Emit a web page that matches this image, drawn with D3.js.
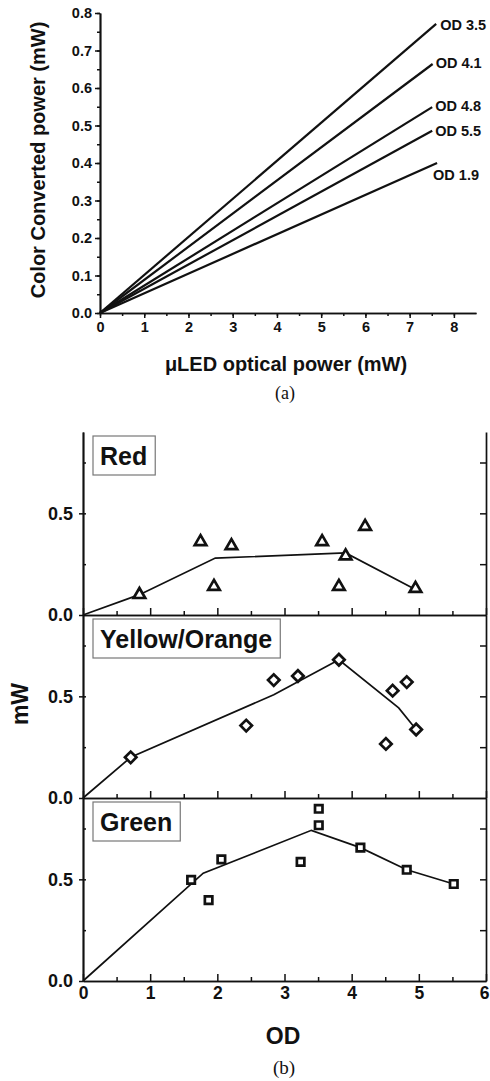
<!DOCTYPE html>
<html>
<head>
<meta charset="utf-8">
<script src="https://cdn.jsdelivr.net/npm/d3@7"></script>
<style>
  body { margin: 0; background: #fff; }
  svg { display: block; }
  .axis path, .axis line { stroke: #111; }
  text { fill: #111; }
</style>
</head>
<body>
<svg id="chart" width="490" height="1081"></svg>
<script>
// (a) color converted power vs uLED optical power
const odNames = ['OD 3.5', 'OD 4.1', 'OD 4.8', 'OD 5.5', 'OD 1.9'];
const ledEnd = [7.6, 7.52, 7.51, 7.51, 7.62];
const convertedEnd = [0.771, 0.664, 0.549, 0.486, 0.4];

// (b) converted power vs OD, per color
const redOD = [0.84, 1.75, 1.95, 2.21, 3.56, 3.81, 3.91, 4.2, 4.95];
const redPower = [0.1, 0.36, 0.14, 0.34, 0.36, 0.14, 0.29, 0.435, 0.13];
const redFitOD = [0, 0.84, 1.97, 3.91, 4.95];
const redFitPower = [0, 0.1, 0.28, 0.305, 0.125];

const yellowOD = [0.71, 2.43, 2.84, 3.2, 3.81, 4.51, 4.61, 4.82, 4.96];
const yellowPower = [0.2, 0.356, 0.58, 0.6, 0.68, 0.266, 0.528, 0.57, 0.337];
const yellowFitOD = [0, 0.71, 2.84, 3.81, 4.7, 4.96];
const yellowFitPower = [0, 0.2, 0.508, 0.68, 0.443, 0.337];

const greenOD = [1.61, 1.87, 2.06, 3.24, 3.51, 3.51, 4.13, 4.82, 5.52];
const greenPower = [0.497, 0.398, 0.598, 0.586, 0.847, 0.766, 0.656, 0.547, 0.477];
const greenFitOD = [0, 1.79, 3.4, 4.13, 4.82, 5.52];
const greenFitPower = [0, 0.53, 0.741, 0.656, 0.547, 0.477];

const font = 'Arial, "Liberation Sans", sans-serif';
const serif = '"Times New Roman", "Liberation Serif", serif';

const svg = d3.select('#chart');

function styleAxis(g, size) {
  g.attr('class', 'axis')
    .attr('font-family', font)
    .attr('font-size', size)
    .attr('font-weight', 'bold');
  g.selectAll('path').attr('stroke-width', 1.7);
  g.selectAll('line').attr('stroke-width', 1.5);
  g.selectAll('text').attr('fill', '#111');
}

//---------------- panel (a) ----------------
const xa = d3.scaleLinear().domain([0, 8.5]).range([100, 476]);
const ya = d3.scaleLinear().domain([0, 0.8]).range([313, 13]);

const ga = svg.append('g');

// minor ticks
ga.append('g')
  .attr('transform', 'translate(0,' + ya(0) + ')')
  .call(d3.axisBottom(xa).tickValues(d3.range(17).map(i => i * 0.5)).tickSize(3).tickSizeOuter(0).tickFormat(''))
  .call(g => styleAxis(g, 14));
ga.append('g')
  .attr('transform', 'translate(' + xa(0) + ',0)')
  .call(d3.axisLeft(ya).tickValues(d3.range(17).map(i => i * 0.05)).tickSize(3).tickSizeOuter(0).tickFormat(''))
  .call(g => styleAxis(g, 14));

// major ticks
ga.append('g')
  .attr('transform', 'translate(0,' + ya(0) + ')')
  .call(d3.axisBottom(xa).tickValues(d3.range(9)).tickSize(5).tickSizeOuter(0).tickPadding(4).tickFormat(d3.format('d')))
  .call(g => styleAxis(g, 14.5));
ga.append('g')
  .attr('transform', 'translate(' + xa(0) + ',0)')
  .call(d3.axisLeft(ya).tickValues(d3.range(9).map(i => i * 0.1)).tickSize(5).tickSizeOuter(0).tickPadding(3).tickFormat(d3.format('.1f')))
  .call(g => styleAxis(g, 14.5));

const lineA = d3.line().x(d => xa(d[0])).y(d => ya(d[1]));
ga.selectAll('path.od')
  .data(odNames)
  .enter()
  .append('path')
  .attr('class', 'od')
  .attr('d', (d, i) => lineA([[0, 0], [ledEnd[i], convertedEnd[i]]]))
  .attr('fill', 'none')
  .attr('stroke', '#111')
  .attr('stroke-width', 2.2);

// label offsets from line ends
const labelDx = [4, 3, 3, 3, -4];
const labelDy = [6, 4, 4, 5, 17];
ga.selectAll('text.od')
  .data(odNames)
  .enter()
  .append('text')
  .attr('class', 'od')
  .attr('x', (d, i) => xa(ledEnd[i]) + labelDx[i])
  .attr('y', (d, i) => ya(convertedEnd[i]) + labelDy[i])
  .attr('font-family', font)
  .attr('font-size', 14.5)
  .attr('font-weight', 'bold')
  .text(d => d);

ga.append('text')
  .attr('transform', 'translate(45,160) rotate(-90)')
  .attr('text-anchor', 'middle')
  .attr('font-family', font)
  .attr('font-size', 20)
  .attr('font-weight', 'bold')
  .text('Color Converted power (mW)');

ga.append('text')
  .attr('x', 286)
  .attr('y', 371)
  .attr('text-anchor', 'middle')
  .attr('font-family', font)
  .attr('font-size', 20)
  .attr('font-weight', 'bold')
  .text('\u03bcLED optical power (mW)');

ga.append('text')
  .attr('x', 285)
  .attr('y', 399)
  .attr('text-anchor', 'middle')
  .attr('font-family', serif)
  .attr('font-size', 18)
  .text('(a)');

//---------------- panel (b) ----------------
const xb = d3.scaleLinear().domain([0, 6]).range([83, 486]);
const panelTop = 432;
const panelH = 183;

const panels = [
  { name: 'Red', od: redOD, power: redPower, fitOD: redFitOD, fitPower: redFitPower, shape: 'triangle' },
  { name: 'Yellow/Orange', od: yellowOD, power: yellowPower, fitOD: yellowFitOD, fitPower: yellowFitPower, shape: 'diamond' },
  { name: 'Green', od: greenOD, power: greenPower, fitOD: greenFitOD, fitPower: greenFitPower, shape: 'square' }
];

const symbols = {
  triangle: d3.symbol().type(d3.symbolTriangle).size(58)(),
  diamond: d3.symbol().type(d3.symbolSquare).size(66)(),
  square: d3.symbol().type(d3.symbolSquare).size(56)()
};

const gb = svg.append('g');

panels.forEach((p, k) => {
  const top = panelTop + k * panelH;
  const y = d3.scaleLinear().domain([0, 0.9]).range([top + panelH, top]);
  const g = gb.append('g');
  const last = k === panels.length - 1;

  // bottom axis, ticks pointing inward
  g.append('g')
    .attr('transform', 'translate(0,' + y(0) + ')')
    .call(d3.axisBottom(xb).tickValues(d3.range(13).map(i => i * 0.5).filter(v => v % 1 !== 0)).tickSize(-4).tickSizeOuter(0).tickFormat(''))
    .call(a => styleAxis(a, 17));
  g.append('g')
    .attr('transform', 'translate(0,' + y(0) + ')')
    .call(d3.axisBottom(xb).tickValues(d3.range(7)).tickSize(-7).tickSizeOuter(0).tickPadding(6)
      .tickFormat(last ? d3.format('d') : ''))
    .call(a => styleAxis(a, 17.5))
    .call(a => a.selectAll('text').filter(d => d === 6).attr('dx', -2));

  // left axis
  g.append('g')
    .attr('transform', 'translate(' + xb(0) + ',0)')
    .call(d3.axisLeft(y).tickValues([0, 0.5]).tickSize(4).tickSizeOuter(0).tickPadding(6).tickFormat(d3.format('.1f')))
    .call(a => styleAxis(a, 18));
  g.append('g')
    .attr('transform', 'translate(' + xb(0) + ',0)')
    .call(d3.axisRight(y).tickValues([0.25, 0.5, 0.75]).tickSize(3).tickSizeOuter(0).tickFormat(''))
    .call(a => styleAxis(a, 17));

  // right axis
  g.append('g')
    .attr('transform', 'translate(' + xb(6) + ',0)')
    .call(d3.axisLeft(y).tickValues([0.25, 0.5, 0.75]).tickSize(6).tickSizeOuter(0).tickFormat(''))
    .call(a => styleAxis(a, 17));

  // fit line
  const fit = p.fitOD.map((v, i) => [v, p.fitPower[i]]);
  g.append('path')
    .attr('d', d3.line().x(d => xb(d[0])).y(d => y(d[1]))(fit))
    .attr('fill', 'none')
    .attr('stroke', '#111')
    .attr('stroke-width', 1.7);

  // markers
  g.selectAll('path.mark')
    .data(p.od)
    .enter()
    .append('path')
    .attr('class', 'mark')
    .attr('d', symbols[p.shape])
    .attr('transform', (d, i) => 'translate(' + xb(d) + ',' + y(p.power[i]) + ')' + (p.shape === 'diamond' ? ' rotate(45)' : ''))
    .attr('fill', '#fff')
    .attr('stroke', '#111')
    .attr('stroke-width', 2.7);

  // name box
  const box = g.append('g').attr('transform', 'translate(' + (xb(0) + 10) + ',' + (top + 4) + ')');
  const rect = box.append('rect')
    .attr('height', 39)
    .attr('fill', '#fff')
    .attr('stroke', '#777')
    .attr('stroke-width', 1.2);
  const label = box.append('text')
    .attr('x', 7)
    .attr('y', 29)
    .attr('font-family', font)
    .attr('font-size', 25)
    .attr('font-weight', 'bold')
    .text(p.name);
  rect.attr('width', label.node().getComputedTextLength() + 15);
});

gb.append('text')
  .attr('transform', 'translate(28,704) rotate(-90)')
  .attr('text-anchor', 'middle')
  .attr('font-family', font)
  .attr('font-size', 23)
  .attr('font-weight', 'bold')
  .text('mW');

gb.append('text')
  .attr('x', 283)
  .attr('y', 1044)
  .attr('text-anchor', 'middle')
  .attr('font-family', font)
  .attr('font-size', 23)
  .attr('font-weight', 'bold')
  .text('OD');

gb.append('text')
  .attr('x', 284)
  .attr('y', 1074)
  .attr('text-anchor', 'middle')
  .attr('font-family', serif)
  .attr('font-size', 19)
  .text('(b)');
</script>
</body>
</html>
